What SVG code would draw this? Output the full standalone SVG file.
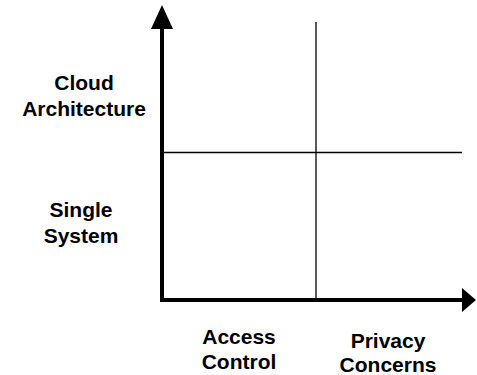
<svg xmlns="http://www.w3.org/2000/svg" width="477" height="375" viewBox="0 0 477 375">
<style>
.lbl{font-family:"Liberation Sans",Arial,sans-serif;font-weight:bold;font-size:21px;fill:#000;text-anchor:middle}
.axis{stroke:#000;stroke-width:4;fill:none}
.grid{stroke:#000;stroke-width:1.3;fill:none}
</style>
<rect width="477" height="375" fill="#fff"/>
<g id="connectors">
<line class="grid" x1="316" y1="22" x2="316" y2="300"/>
<line class="grid" x1="162" y1="152.5" x2="462" y2="152.5"/>
<polyline class="axis" points="162,28 162,300 462,300"/>
<polygon points="162,5 151,29 173,29" fill="#000"/>
<polygon points="476,300 462,288 462,312" fill="#000"/>
</g>
<g id="y-cloud"><text class="lbl" x="84" y="90">Cloud</text><text class="lbl" x="84" y="116">Architecture</text></g>
<g id="y-single"><text class="lbl" x="81" y="216.5">Single</text><text class="lbl" x="81" y="243">System</text></g>
<g id="x-access"><text class="lbl" x="239" y="343.5">Access</text><text class="lbl" x="239" y="368.5">Control</text></g>
<g id="x-privacy"><text class="lbl" x="388" y="347.5">Privacy</text><text class="lbl" x="388" y="372">Concerns</text></g>
</svg>
